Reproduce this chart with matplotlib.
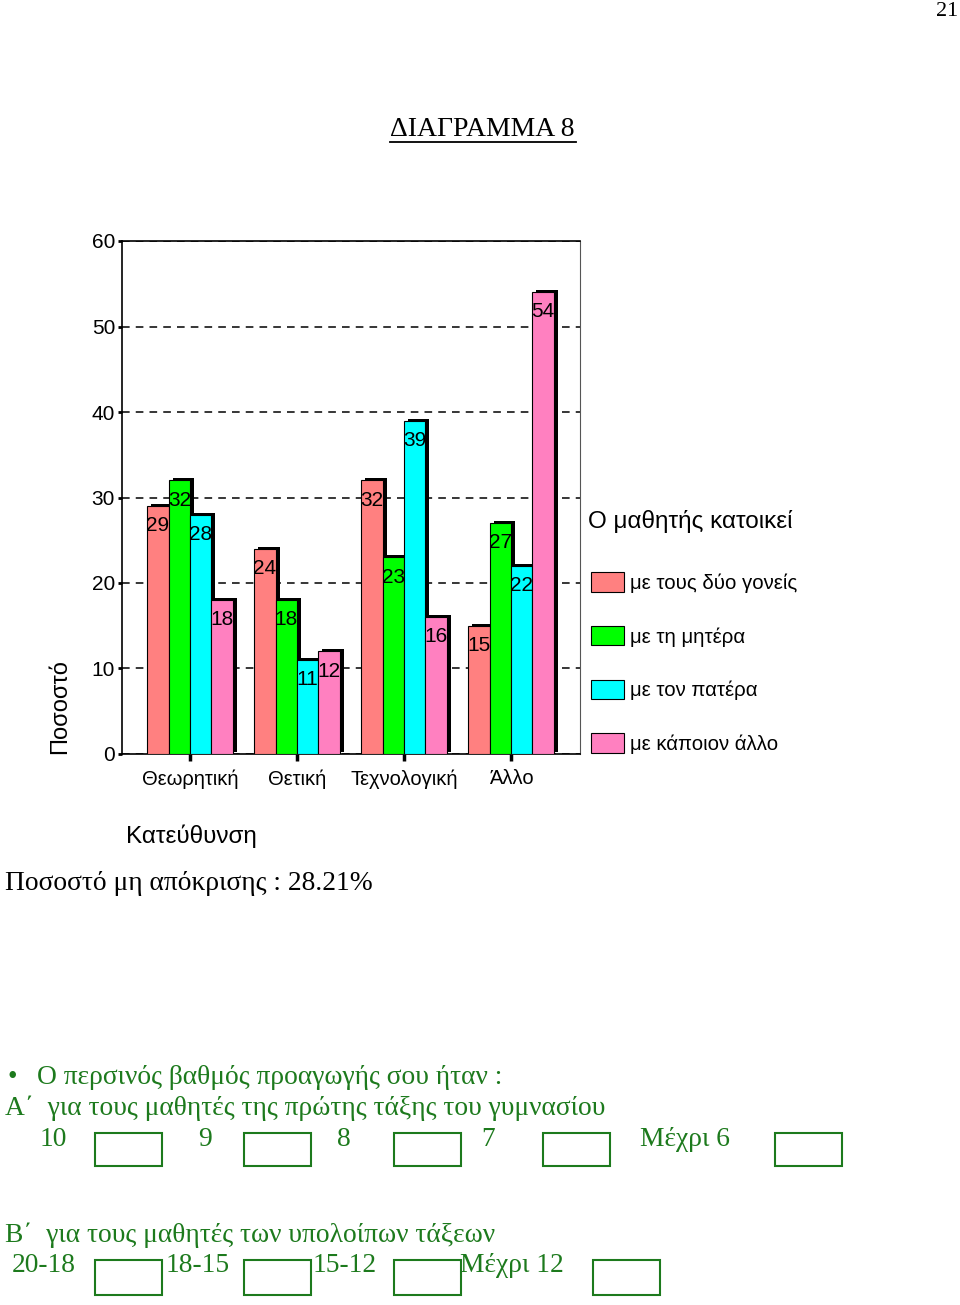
import numpy as np
import matplotlib.pyplot as plt
from matplotlib.patches import Rectangle
from matplotlib.lines import Line2D

categories = ['Θεωρητική', 'Θετική', 'Τεχνολογική', 'Άλλο']
series_names = ['με τους δύο γονείς', 'με τη μητέρα', 'με τον πατέρα', 'με κάποιον άλλο']
both_parents = [29, 24, 32, 15]
mother = [32, 18, 23, 27]
father = [28, 11, 39, 22]
someone_else = [18, 12, 16, 54]
colors = ['#ff8080', '#00ff00', '#00ffff', '#ff80c0']
yticks = [0, 10, 20, 30, 40, 50, 60]

grades_a = ['10', '9', '8', '7', 'Μέχρι 6']
grades_b = ['20-18', '18-15', '15-12', 'Μέχρι 12']

W, H = 960, 1305
sans = 'Liberation Sans'
serif = 'Liberation Serif'
green = '#1d7a1d'
fs_serif = 19.8


def fx(px):
    return px / W


def fy(py):
    return 1 - py / H


fig = plt.figure(figsize=(9.6, 13.05), dpi=100)
ax = fig.add_axes([fx(122), fy(754), fx(580) - fx(122), fy(241) - fy(754)])

series = [both_parents, mother, father, someone_else]
x = np.arange(len(categories))
w = 0.2
dx = 4 / 107      # shadow shift right (about 4 px)
dy = 2 / 8.55     # shadow shift up (about 2 px)

handles = []
for i, vals in enumerate(series):
    pos = x + (i - 1.5) * w
    ax.bar(pos + dx, vals, w, bottom=dy, color='black', zorder=2 + 2 * i)
    b = ax.bar(pos, vals, w, color=colors[i], edgecolor='black', lw=0.8,
               zorder=3 + 2 * i, label=series_names[i])
    handles.append(b)
    for p, v in zip(pos, vals):
        ax.text(p, v - 2.3, str(v), ha='center', va='center', fontsize=15,
                family=sans, zorder=20)

ax.set_xlim(-0.636, 3.645)
ax.set_ylim(0, 60)
ax.set_yticks(yticks)
ax.set_xticks(x)
ax.set_xticklabels(categories, family=sans, fontsize=14.5)
for lab in ax.get_yticklabels():
    lab.set_family(sans)
    lab.set_fontsize(15)
ax.tick_params(axis='y', length=3, width=2, pad=2)
ax.tick_params(axis='x', length=5, width=2.5, pad=6)
ax.yaxis.grid(True, linestyle=(0, (5, 4)), color='black', lw=1.1, zorder=0)
ax.set_axisbelow(True)
for s in ['left', 'bottom', 'top']:
    ax.spines[s].set_linewidth(1.2)
ax.spines['right'].set_color('#555555')

# legend
fig.text(fx(588), fy(521), 'Ο μαθητής κατοικεί', family=sans, fontsize=17.5,
         ha='left', va='center')
fig.legend(handles=handles, labels=series_names, loc='upper left',
           bbox_to_anchor=(fx(591), fy(572)), frameon=False,
           prop={'family': sans, 'size': 14.7}, handlelength=1.6,
           handleheight=1.1, labelspacing=1.62, handletextpad=0.3,
           borderpad=0, borderaxespad=0)

fig.text(fx(60), fy(707), 'Ποσοστό', family=sans, fontsize=17, rotation=90,
         ha='center', va='center')
fig.text(fx(191), fy(836), 'Κατεύθυνση', family=sans, fontsize=17.5,
         ha='center', va='center')

# page texts
fig.text(fx(958), fy(12), '21', family=serif, fontsize=16, ha='right', va='center')
fig.text(fx(390), fy(130), 'ΔΙΑΓΡΑΜΜΑ 8', family=serif, fontsize=20,
         ha='left', va='center')
fig.add_artist(Line2D([fx(390), fx(576)], [fy(142), fy(142)], color='black', lw=1.3))
fig.text(fx(5), fy(883), 'Ποσοστό μη απόκρισης : 28.21%', family=serif,
         fontsize=fs_serif, ha='left', va='center')

fig.text(fx(12), fy(1078), '•', family=serif, fontsize=fs_serif, color=green,
         ha='center', va='center')
fig.text(fx(37), fy(1077), 'Ο περσινός βαθμός προαγωγής σου ήταν :', family=serif,
         fontsize=fs_serif, color=green, ha='left', va='center')
fig.text(fx(5), fy(1108), 'Α΄  για τους μαθητές της πρώτης τάξης του γυμνασίου',
         family=serif, fontsize=fs_serif, color=green, ha='left', va='center')
fig.text(fx(5), fy(1235), 'Β΄  για τους μαθητές των υπολοίπων τάξεων',
         family=serif, fontsize=fs_serif, color=green, ha='left', va='center')

label_xa = [40, 198, 337, 481, 640]
box_xa = [95, 244, 394, 543, 775]
for lab, lx, bx in zip(grades_a, label_xa, box_xa):
    fig.text(fx(lx), fy(1140), lab, family=serif, fontsize=fs_serif, color=green,
             ha='left', va='center')
    fig.add_artist(Rectangle((fx(bx), fy(1166)), 67 / W, 33 / H, fill=False,
                             edgecolor=green, lw=1.5))

label_xb = [12, 166, 313, 460]
box_xb = [95, 244, 394, 593]
for lab, lx, bx in zip(grades_b, label_xb, box_xb):
    fig.text(fx(lx), fy(1266), lab, family=serif, fontsize=fs_serif, color=green,
             ha='left', va='center')
    fig.add_artist(Rectangle((fx(bx), fy(1295)), 67 / W, 35 / H, fill=False,
                             edgecolor=green, lw=1.5))

fig.savefig('out.png', dpi=100)
